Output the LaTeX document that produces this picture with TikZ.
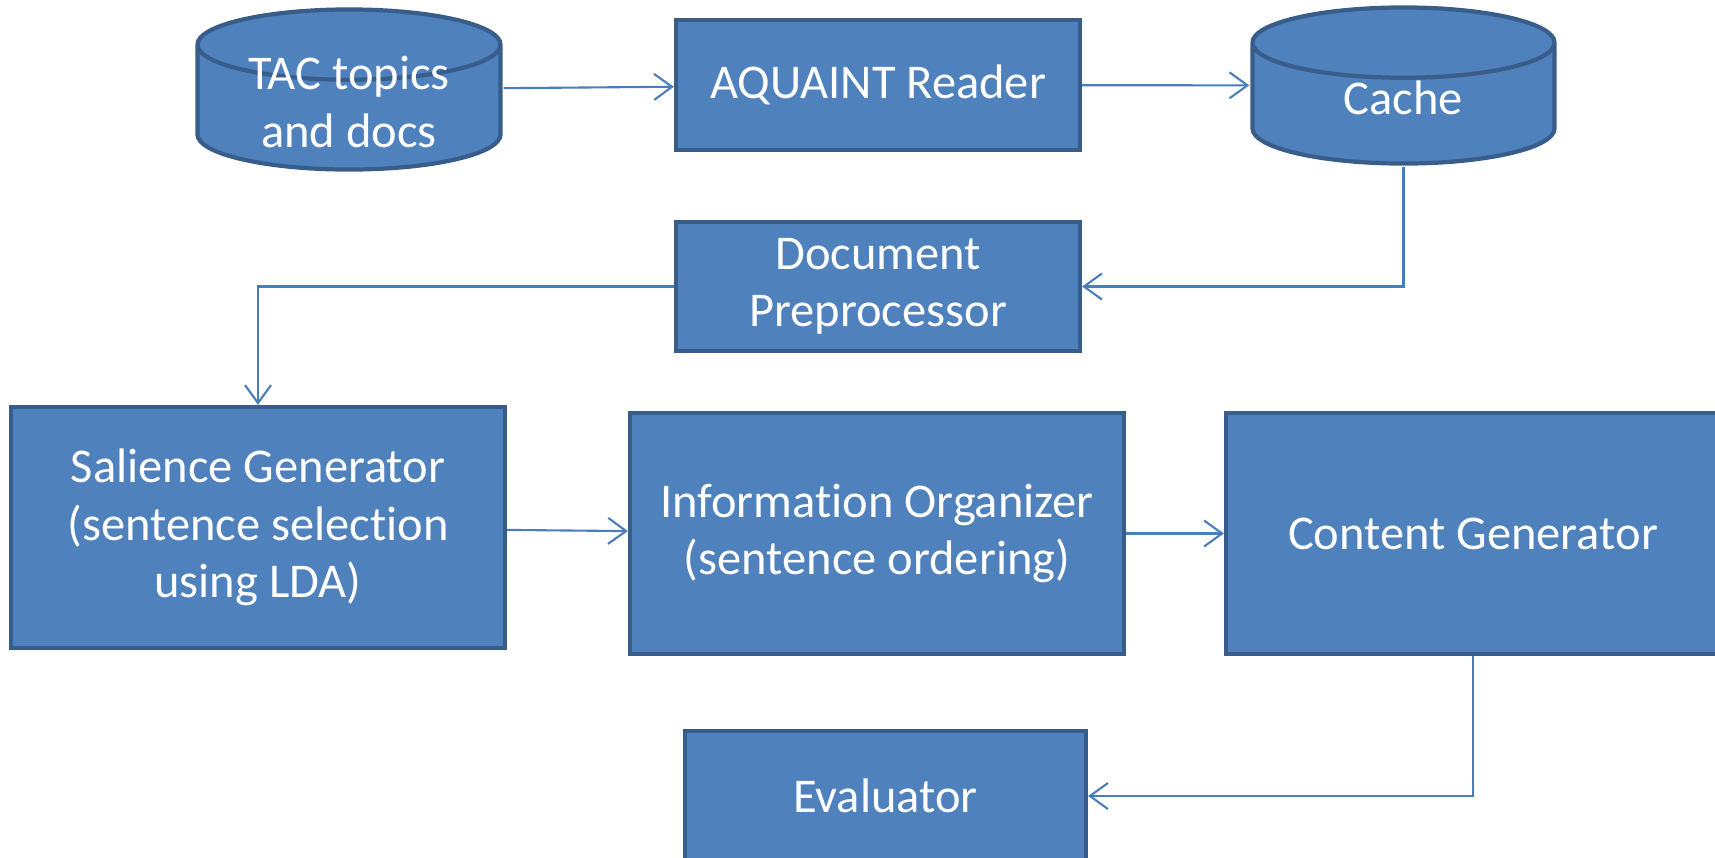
\documentclass[tikz,border=0pt]{standalone}
\usepackage{fontspec}
\setmainfont{Carlito}[Ligatures=NoCommon]
\usepackage{tikz}
\usetikzlibrary{arrows.meta, positioning, calc}
\definecolor{azulCaixa}{RGB}{79,129,189}
\definecolor{azulBorda}{RGB}{56,93,138}
\definecolor{azulSeta}{RGB}{74,126,187}

% cylinder drawn inside the node box
\newcommand{\drawstore}{%
  \draw[draw=azulBorda, fill=azulCaixa, line width=1.2pt]
    let \p1=(path picture bounding box.north west),
        \p2=(path picture bounding box.south east),
        \n1={(\x2-\x1)/2-0.7pt} in
    (\x1+0.7pt,\y1-10.7pt) -- (\x1+0.7pt,\y2+10.7pt)
    arc[start angle=180, end angle=360, x radius=\n1, y radius=10pt]
    -- (\x2-0.7pt,\y1-10.7pt)
    arc[start angle=0, end angle=180, x radius=\n1, y radius=10pt]
    arc[start angle=180, end angle=360, x radius=\n1, y radius=10pt];
}
\newcommand{\desloca}[1]{\raisebox{-1.25mm}[\height][\depth]{#1}}

\begin{document}
\begin{tikzpicture}[
    procbox/.style={draw=azulBorda, fill=azulCaixa, line width=1.2pt, text=white, align=center, font=\fontsize{13.8}{16.4}\selectfont, inner sep=0pt},
    store/.style={rectangle, path picture={\drawstore}, text=white, align=center, font=\fontsize{13.8}{16.4}\selectfont, inner sep=0pt},
    arrow/.style={line width=0.6pt, -{Straight Barb[length=1.8mm, width=2.6mm]}, draw=azulSeta}
]
    \useasboundingbox (0,0) rectangle (17.15,-8.57);

    \node[store, minimum width=3.08cm, minimum height=1.65cm] (tac) at (3.49, -0.895) {\desloca{TAC topics}\\\desloca{and docs}};
    \node[procbox, minimum width=4.04cm, minimum height=1.30cm] (aquaint) at (8.78, -0.85) {AQUAINT Reader};
    \node[store, minimum width=3.07cm, minimum height=1.61cm] (cache) at (14.035, -0.855) {\desloca{Cache}};
    \node[procbox, minimum width=4.04cm, minimum height=1.29cm] (docprep) at (8.78, -2.865) {Document\\Preprocessor};
    \node[procbox, minimum width=4.94cm, minimum height=2.41cm] (salience) at (2.58, -5.275) {Salience Generator\\(sentence selection\\using LDA)};
    \node[procbox, minimum width=4.94cm, minimum height=2.41cm] (infoorg) at (8.77, -5.335) {Information Organizer\\(sentence ordering)};
    \node[procbox, minimum width=4.94cm, minimum height=2.41cm] (content) at (14.73, -5.335) {Content Generator};
    \node[procbox, minimum width=4.01cm, minimum height=1.30cm] (evaluator) at (8.855, -7.96) {Evaluator};

    \draw[arrow] (tac) -- (aquaint);
    \draw[arrow] (aquaint) -- (cache);
    \draw[arrow] (cache.south) |- (docprep.east);
    \draw[arrow] (docprep.west) -| (salience.north);
    \draw[arrow] (salience) -- (infoorg);
    \draw[arrow] (infoorg) -- (content);
    \draw[arrow] (content.south) |- (evaluator.east);
\end{tikzpicture}
\end{document}
